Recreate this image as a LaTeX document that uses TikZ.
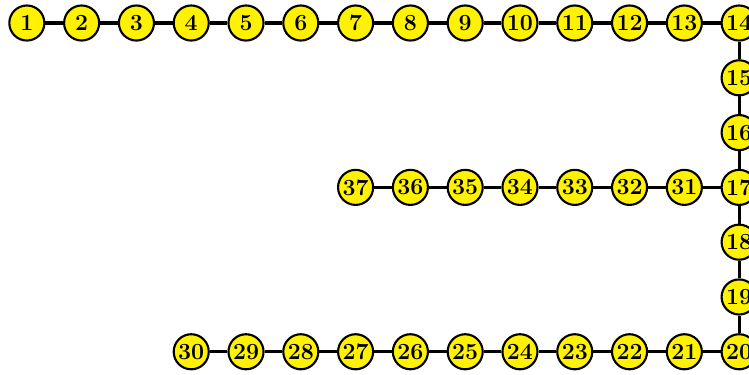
\documentclass[tikz,border=0pt]{standalone}
\begin{document}
\begin{tikzpicture}[x=1cm,y=1cm,
  vtx/.style={circle,draw=black,fill=yellow,line width=1.1pt,minimum size=0.64cm,inner sep=0pt,font=\large\bfseries},
  lnk/.style={line width=1.6pt}]
\useasboundingbox (-0.49,0.42) rectangle (13.18,-6.42);
% top row 1..14
\foreach \i in {1,...,14} {\node[vtx] (n\i) at (\i-1,0) {\i};}
% right column 15..20
\node[vtx] (n15) at (13,-1) {15};
\node[vtx] (n16) at (13,-2) {16};
\node[vtx] (n17) at (13,-3) {17};
\node[vtx] (n18) at (13,-4) {18};
\node[vtx] (n19) at (13,-5) {19};
\node[vtx] (n20) at (13,-6) {20};
% bottom row 21..30
\foreach \i in {21,...,30} {\node[vtx] (n\i) at (33-\i,-6) {\i};}
% middle row 31..37
\foreach \i in {31,...,37} {\node[vtx] (n\i) at (43-\i,-3) {\i};}
% edges
\foreach \a/\b in {1/2,2/3,3/4,4/5,5/6,6/7,7/8,8/9,9/10,10/11,11/12,12/13,13/14,14/15,15/16,16/17,17/18,18/19,19/20,20/21,21/22,22/23,23/24,24/25,25/26,26/27,27/28,28/29,29/30,17/31,31/32,32/33,33/34,34/35,35/36,36/37}
  {\draw[lnk] (n\a) -- (n\b);}
\end{tikzpicture}
\end{document}
